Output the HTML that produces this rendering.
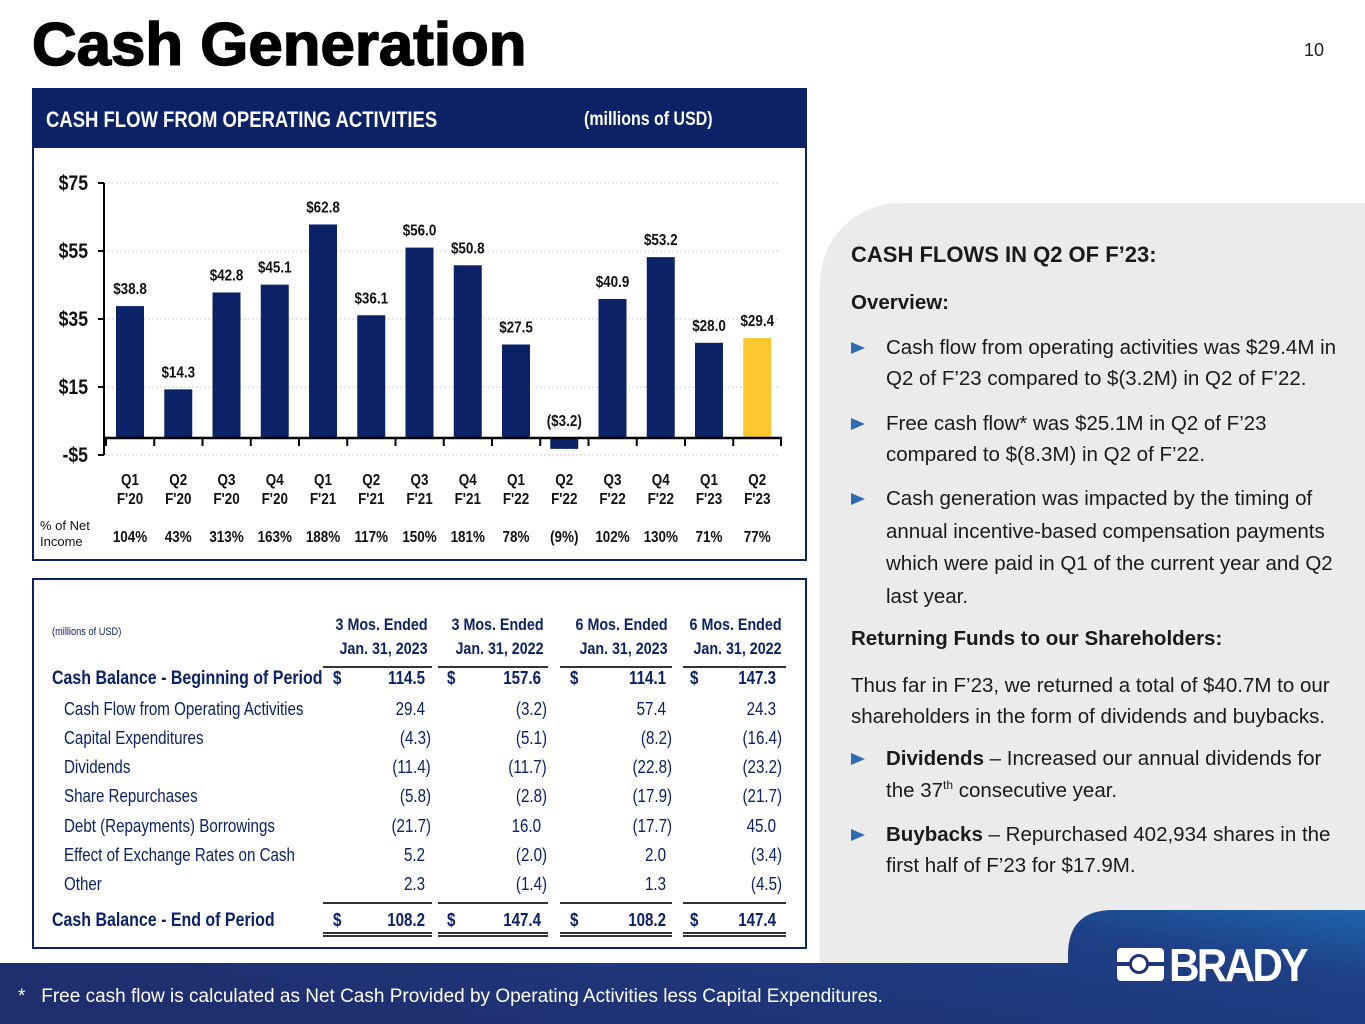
<!DOCTYPE html>
<html><head><meta charset="utf-8"><style>
*{margin:0;padding:0;box-sizing:border-box}
html,body{width:1365px;height:1024px;overflow:hidden}
body{position:relative;background:#fff;font-family:"Liberation Sans",Arial,sans-serif}
.a{position:absolute;white-space:nowrap}
.n{transform:scaleX(0.84);transform-origin:left top}
.nr{transform:scaleX(0.84);transform-origin:right top}
.rt{font-size:20.5px;color:#1a1a1a;line-height:31px}
.tri{position:absolute;width:0;height:0;border-left:14px solid #2e6db4;border-top:6px solid transparent;border-bottom:6px solid transparent}
sup{font-size:12px;line-height:0;vertical-align:8px}
</style></head><body>
<div class="a" style="left:820px;top:203px;width:545px;height:821px;background:#ebebeb;border-top-left-radius:80px"></div>
<div class="a" style="left:32px;top:10px;font-size:60px;font-weight:bold;color:#000;-webkit-text-stroke:1.5px #000;transform:scaleX(1.03);transform-origin:left top">Cash Generation</div>
<div class="a" style="left:1304px;top:40px;font-size:18px;color:#222">10</div>

<div class="a" style="left:32px;top:88px;width:775px;height:473px;border:2px solid #0b2366"></div>
<div class="a" style="left:32px;top:88px;width:775px;height:60px;background:#0b2366"></div>
<div class="a n" style="left:46px;top:107px;font-size:22px;font-weight:bold;color:#fff">CASH FLOW FROM OPERATING ACTIVITIES</div>
<div class="a n" style="left:584px;top:109px;font-size:19px;font-weight:bold;color:#fff">(millions of USD)</div>

<svg class="a" id="chart" style="left:0;top:0" width="810" height="560"></svg>

<div class="a" style="left:32px;top:578px;width:775px;height:371px;border:2px solid #0b2366"></div>
<div id="tbl"></div>

<div class="a rt" style="left:851px;top:239px;font-size:22px;font-weight:bold">CASH FLOWS IN Q2 OF F’23:</div>
<div class="a rt" style="left:851px;top:287px;font-weight:bold">Overview:</div>
<div class="tri" style="left:851px;top:342px"></div>
<div class="a rt" style="left:886px;top:332px">Cash flow from operating activities was $29.4M in<br>Q2 of F’23 compared to $(3.2M) in Q2 of F’22.</div>
<div class="tri" style="left:851px;top:418px"></div>
<div class="a rt" style="left:886px;top:408px">Free cash flow* was $25.1M in Q2 of F’23<br>compared to $(8.3M) in Q2 of F’22.</div>
<div class="tri" style="left:851px;top:493px"></div>
<div class="a rt" style="left:886px;top:483px;line-height:32.5px">Cash generation was impacted by the timing of<br>annual incentive-based compensation payments<br>which were paid in Q1 of the current year and Q2<br>last year.</div>
<div class="a rt" style="left:851px;top:623px;font-weight:bold">Returning Funds to our Shareholders:</div>
<div class="a rt" style="left:851px;top:670px">Thus far in F’23, we returned a total of $40.7M to our<br>shareholders in the form of dividends and buybacks.</div>
<div class="tri" style="left:851px;top:753px"></div>
<div class="a rt" style="left:886px;top:743px;line-height:32px"><b>Dividends</b> – Increased our annual dividends for<br>the 37<sup>th</sup> consecutive year.</div>
<div class="tri" style="left:851px;top:829px"></div>
<div class="a rt" style="left:886px;top:819px"><b>Buybacks</b> – Repurchased 402,934 shares in the<br>first half of F’23 for $17.9M.</div>

<svg class="a" style="left:0;top:905px" width="1365" height="119">
<defs><linearGradient id="g" x1="0" x2="1" y1="0.5" y2="0"><stop offset="0" stop-color="#1f2e6e"/><stop offset="0.75" stop-color="#1e3f86"/><stop offset="1" stop-color="#1f64aa"/></linearGradient></defs>
<path d="M0 58 H1068 V50 Q1068 5 1113 5 H1365 V119 H0 Z" fill="url(#g)"/>
</svg>
<div class="a" style="left:1117px;top:944px;width:214px;height:46px">
 <div class="a" style="left:0;top:4px;width:47px;height:33px;background:#fff;border-radius:4px"></div>
 <div class="a" style="left:0;top:18px;width:47px;height:4px;background:#1f3477"></div>
 <div class="a" style="left:12px;top:10px;width:20px;height:20px;border:3px solid #1f3477;border-radius:50%;background:#fff"></div>
 <div class="a" style="left:52px;top:-6px;font-size:46px;font-weight:bold;color:#fff;letter-spacing:-3px;transform:scaleX(0.92);transform-origin:left">BRADY</div>
</div>
<div class="a" style="left:18px;top:986px;font-size:19px;color:#fff">*&nbsp;&nbsp;&nbsp;Free cash flow is calculated as Net Cash Provided by Operating Activities less Capital Expenditures.</div>

<script>
const quarters=["Q1","Q2","Q3","Q4","Q1","Q2","Q3","Q4","Q1","Q2","Q3","Q4","Q1","Q2"];
const years=["F'20","F'20","F'20","F'20","F'21","F'21","F'21","F'21","F'22","F'22","F'22","F'22","F'23","F'23"];
const values=[38.8,14.3,42.8,45.1,62.8,36.1,56.0,50.8,27.5,-3.2,40.9,53.2,28.0,29.4];
const pctNetIncome=["104%","43%","313%","163%","188%","117%","150%","181%","78%","(9%)","102%","130%","71%","77%"];
const yTicks=[75,55,35,15,-5];
const NS="http://www.w3.org/2000/svg";
const svg=document.getElementById('chart');
const y=v=>438-(v)*3.4;
const x=i=>130+i*48.25;
function mk(t,a,txt){const e=document.createElementNS(NS,t);for(const k in a)e.setAttribute(k,a[k]);if(txt!=null)e.textContent=txt;svg.appendChild(e);return e;}
function tx(px,py,s,txt,anchor){return mk('text',{transform:`translate(${px},${py}) scale(0.84,1)`,'text-anchor':anchor||'middle','font-size':s,'font-weight':'bold',fill:'#111'},txt);}
yTicks.forEach(t=>{
 const g=mk('line',{x1:104,x2:780,y1:y(t),y2:y(t),stroke:'#ccc','stroke-dasharray':'2,2'});
 
 
 const l=tx(88,y(t)+7,21,(t<0?'-$':'$')+Math.abs(t),'end');
 
 
 mk('line',{x1:98,x2:104,y1:y(t),y2:y(t),stroke:'#000','stroke-width':2});
});
mk('line',{x1:104,x2:104,y1:y(75),y2:y(-5),stroke:'#000','stroke-width':2});
values.forEach((v,i)=>{
 const top=Math.min(y(v),y(0)),h=Math.abs(y(v)-y(0));
 const b=mk('rect',{x:x(i)-14,y:top,width:28,height:h,fill:i==values.length-1?'#fdc82f':'#0b2366'});
 
 
 const ly=v>=0?y(v)-12:y(0)-12;
 const lab=tx(x(i),ly,16,v<0?'($'+Math.abs(v).toFixed(1)+')':'$'+v.toFixed(1));
 
 
 const q=tx(x(i),485,16,quarters[i]);
 
 
 const yr=tx(x(i),504,16,years[i]);
 
 
 const p=tx(x(i),542,16,pctNetIncome[i]);
 
 
 mk('line',{x1:x(i)-24,x2:x(i)-24,y1:y(0),y2:y(0)+8,stroke:'#000','stroke-width':2});
});
mk('line',{x1:104,x2:782,y1:y(0),y2:y(0),stroke:'#000','stroke-width':2.5});
mk('line',{x1:781,x2:781,y1:y(0),y2:y(0)+8,stroke:'#000','stroke-width':2});
const pl=mk('text',{x:40,y:530,'font-size':13,fill:'#111'},'% of Net');


mk('text',{x:40,y:546,'font-size':13,fill:'#111'},'Income');

const rows=[
 ["Cash Balance - Beginning of Period",["114.5","157.6","114.1","147.3"],1,680],
 ["Cash Flow from Operating Activities",["29.4","(3.2)","57.4","24.3"],0,711],
 ["Capital Expenditures",["(4.3)","(5.1)","(8.2)","(16.4)"],0,740],
 ["Dividends",["(11.4)","(11.7)","(22.8)","(23.2)"],0,769],
 ["Share Repurchases",["(5.8)","(2.8)","(17.9)","(21.7)"],0,798],
 ["Debt (Repayments) Borrowings",["(21.7)","16.0","(17.7)","45.0"],0,828],
 ["Effect of Exchange Rates on Cash",["5.2","(2.0)","2.0","(3.4)"],0,857],
 ["Other",["2.3","(1.4)","1.3","(4.5)"],0,886],
 ["Cash Balance - End of Period",["108.2","147.4","108.2","147.4"],1,922]];
const colDollar=[333,447,570,690],colRight=[425,541,666,776],ulL=[323,438,560,683],ulR=[432,548,672,786];
const hdr=[["3 Mos. Ended","Jan. 31, 2023"],["3 Mos. Ended","Jan. 31, 2022"],["6 Mos. Ended","Jan. 31, 2023"],["6 Mos. Ended","Jan. 31, 2022"]];
let h='<div class="a n" style="left:52px;top:626px;font-size:11px;color:#0b2366">(millions of USD)</div>';
hdr.forEach((c,i)=>{h+=`<div class="a nr" style="right:${1365-ulR[i]+4}px;top:613px;text-align:right;font-size:17px;font-weight:bold;color:#0b2366;line-height:24px">${c[0]}<br>${c[1]}</div>`;
 h+=`<div class="a" style="left:${ulL[i]}px;width:${ulR[i]-ulL[i]}px;top:666px;height:2px;background:#333"></div>`;
 h+=`<div class="a" style="left:${ulL[i]}px;width:${ulR[i]-ulL[i]}px;top:902px;height:2px;background:#333"></div>`;
 h+=`<div class="a" style="left:${ulL[i]}px;width:${ulR[i]-ulL[i]}px;top:932px;height:5px;border-top:2px solid #333;border-bottom:2px solid #333"></div>`;});
rows.forEach(r=>{const b=r[2];
 h+=`<div class="a n" style="left:${b?52:64}px;top:${r[3]-12}px;font-size:${b?19:18}px;${b?'font-weight:bold;':''}color:#0b2366">${r[0]}</div>`;
 r[1].forEach((v,i)=>{const par=v.endsWith(')');
  if(b)h+=`<div class="a n" style="left:${colDollar[i]}px;top:${r[3]-12}px;font-size:18px;font-weight:bold;color:#0b2366">$</div>`;
  h+=`<div class="a nr" style="right:${1365-colRight[i]-(par?6:0)}px;top:${r[3]-12}px;font-size:18px;${b?'font-weight:bold;':''}color:#0b2366">${v}</div>`;});});
document.getElementById('tbl').innerHTML=h;
</script>
</body></html>
